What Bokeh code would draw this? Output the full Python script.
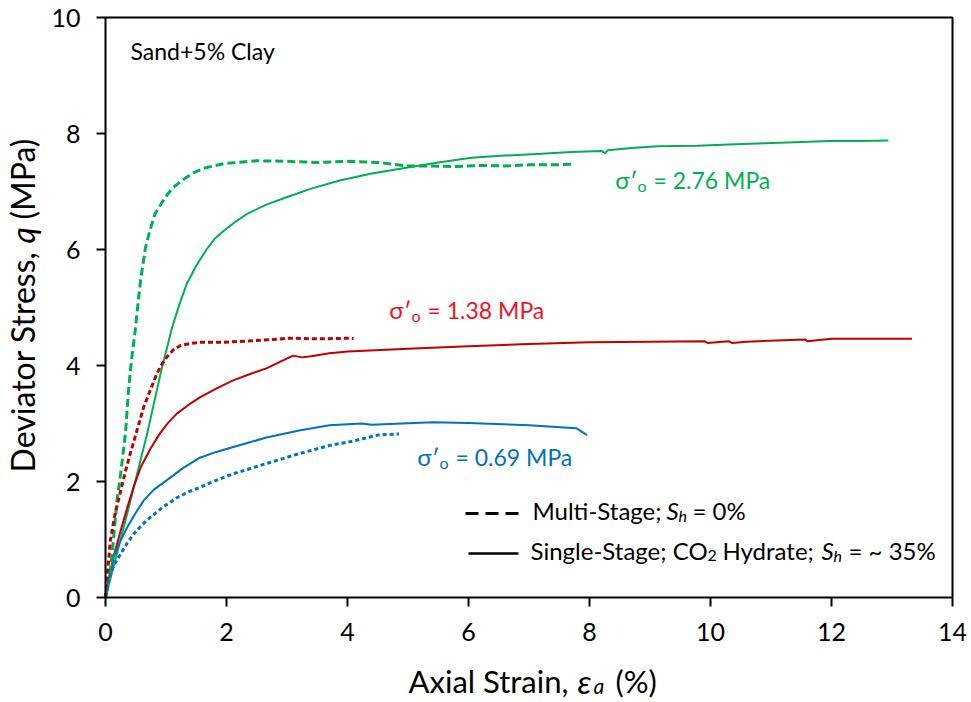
from math import pi
from bokeh.plotting import figure
from bokeh.models import Range1d, Label, FixedTicker
from bokeh.embed import file_html
from bokeh.resources import INLINE

# ---------------- data ----------------
x_ticks = [0, 2, 4, 6, 8, 10, 12, 14]
y_ticks = [0, 2, 4, 6, 8, 10]

# sigma'_o = 2.76 MPa, multi-stage (dashed)
g_ms_x = [0, 0.08, 0.13, 0.19, 0.25, 0.33, 0.38, 0.43, 0.48, 0.52, 0.58, 0.66, 0.74, 0.82, 0.99, 1.1, 1.26,
          1.45, 1.62, 1.95, 2.5, 3.0, 3.5, 4.03, 4.5, 5.0, 5.4, 5.8, 6.2, 6.6, 7.0, 7.4, 7.72]
g_ms_q = [0, 0.46, 0.98, 1.67, 2.13, 2.83, 3.57, 4.1, 4.5, 4.9, 5.47, 6.03, 6.35, 6.62, 6.9, 7.05, 7.19,
          7.32, 7.4, 7.48, 7.53, 7.52, 7.5, 7.52, 7.5, 7.44, 7.44, 7.43, 7.45, 7.44, 7.46, 7.46, 7.47]
# sigma'_o = 2.76 MPa, single-stage hydrate (solid)
g_ss_x = [0, 0.18, 0.36, 0.52, 0.69, 0.79, 0.93, 1.02, 1.1, 1.22, 1.34, 1.5, 1.67, 1.8, 1.95, 2.15, 2.35,
          2.65, 2.99, 3.4, 3.87, 4.4, 4.97, 5.5, 6.05, 6.6, 7.2, 7.7, 8.2, 8.26, 8.3, 8.7, 9.13, 9.79,
          10.3, 10.89, 11.4, 11.97, 12.5, 12.94]
g_ss_q = [0, 0.72, 1.45, 2.12, 2.83, 3.3, 3.95, 4.32, 4.65, 5.05, 5.4, 5.72, 6.0, 6.18, 6.32, 6.48, 6.62,
          6.77, 6.9, 7.05, 7.19, 7.31, 7.41, 7.5, 7.58, 7.62, 7.65, 7.68, 7.7, 7.66, 7.71, 7.75, 7.78, 7.79,
          7.81, 7.83, 7.85, 7.87, 7.87, 7.88]

# sigma'_o = 1.38 MPa
r_ms_x = [0, 0.04, 0.08, 0.15, 0.25, 0.36, 0.47, 0.63, 0.75, 0.85, 0.93, 1.01, 1.12, 1.23, 1.4, 1.56, 1.94,
          2.5, 3.04, 3.5, 4.03, 4.1]
r_ms_q = [0, 0.5, 0.98, 1.4, 1.84, 2.3, 2.7, 3.28, 3.6, 3.86, 4.02, 4.14, 4.27, 4.34, 4.38, 4.4, 4.4,
          4.43, 4.47, 4.46, 4.47, 4.46]
r_ss_x = [0, 0.13, 0.25, 0.36, 0.47, 0.58, 0.74, 0.9, 1.04, 1.18, 1.37, 1.56, 1.83, 2.1, 2.38, 2.66, 2.9,
          3.1, 3.25, 3.4, 3.7, 4.0, 5.0, 6.0, 7.0, 8.0, 9.0, 9.9, 9.95, 10.3, 10.35, 10.6, 11.56, 11.6,
          12.0, 13.33]
r_ss_q = [0, 0.69, 1.15, 1.55, 1.92, 2.24, 2.56, 2.83, 3.02, 3.17, 3.32, 3.45, 3.6, 3.74, 3.85, 3.95, 4.07,
          4.17, 4.14, 4.16, 4.21, 4.24, 4.29, 4.33, 4.37, 4.4, 4.41, 4.42, 4.39, 4.42, 4.39, 4.41, 4.45, 4.42,
          4.46, 4.46]

# sigma'_o = 0.69 MPa
b_ms_x = [0, 0.04, 0.08, 0.16, 0.25, 0.36, 0.47, 0.6, 0.74, 0.95, 1.18, 1.37, 1.56, 1.83, 2.1, 2.38, 2.66,
          3.2, 3.7, 4.06, 4.5, 4.85]
b_ms_q = [0, 0.2, 0.41, 0.6, 0.75, 0.94, 1.1, 1.25, 1.38, 1.56, 1.72, 1.82, 1.9, 2.02, 2.13, 2.22, 2.31,
          2.48, 2.62, 2.69, 2.8, 2.82]
b_ss_x = [0, 0.13, 0.25, 0.36, 0.5, 0.63, 0.8, 1.01, 1.28, 1.56, 1.83, 2.1, 2.4, 2.66, 3.2, 3.7, 4.23,
          4.4, 4.9, 5.41, 6.0, 7.0, 7.78, 7.96]
b_ss_q = [0, 0.69, 0.98, 1.21, 1.46, 1.67, 1.86, 2.02, 2.23, 2.41, 2.51, 2.59, 2.68, 2.76, 2.88, 2.97, 3.0,
          2.98, 3.0, 3.02, 3.01, 2.97, 2.92, 2.8]

# ---------------- styling ----------------
GREEN = "#00B050"
RED = "#C00000"
RED_TXT = "#F0141E"
BLUE = "#0070C0"
FONT = "Lato"
DY = 9  # empirical baseline correction (px)

# pixel geometry of the plotting box inside the 971x702 canvas
L, R, T, B = 105, 952, 17, 597
W, H = 971, 702
XMAX, YMAX = 14.0, 10.0


def px2x(px):
    return (px - L) / (R - L) * XMAX


def px2y(py):
    return (B - py) / (B - T) * YMAX


# the frame covers the whole canvas; axes are pinned at x=0 / y=0
p = figure(width=W, height=H, output_backend="svg", toolbar_location=None,
           x_range=Range1d(px2x(0), px2x(W)), y_range=Range1d(px2y(H), px2y(0)),
           min_border=0, min_border_left=0, min_border_right=0, min_border_top=0, min_border_bottom=0)
p.title.visible = False
p.background_fill_color = "white"
p.border_fill_color = "white"
p.xgrid.visible = False
p.ygrid.visible = False
p.outline_line_color = None

for ax, ticks, bnd in ((p.xaxis, x_ticks, (0, XMAX)), (p.yaxis, y_ticks, (0, YMAX))):
    ax.ticker = FixedTicker(ticks=ticks)
    ax.fixed_location = 0
    ax.bounds = bnd
    ax.axis_line_width = 2
    ax.axis_line_color = "black"
    ax.major_tick_line_width = 2
    ax.major_tick_line_color = "black"
    ax.major_tick_out = 9
    ax.major_tick_in = 0
    ax.minor_tick_out = 0
    ax.minor_tick_in = 0
    ax.major_label_text_font = FONT
    ax.major_label_text_font_size = "25px"
    ax.major_label_text_color = "black"
p.xaxis.major_label_standoff = 16
p.yaxis.major_label_standoff = 16

# top / right border of the plotting box
p.line([0, XMAX, XMAX], [YMAX, YMAX, 0], line_color="black", line_width=2)

# curves
p.line(g_ss_x, g_ss_q, line_color=GREEN, line_width=2)
p.line(r_ss_x, r_ss_q, line_color=RED, line_width=2)
p.line(b_ss_x, b_ss_q, line_color=BLUE, line_width=2)
p.line(g_ms_x, g_ms_q, line_color=GREEN, line_width=3, line_dash="8 4")
p.line(r_ms_x, r_ms_q, line_color=RED, line_width=3, line_dash="5 3")
p.line(b_ms_x, b_ms_q, line_color=BLUE, line_width=3, line_dash="4 3")


def lab(px, py, text, size, color="black", style="normal", align="left"):
    p.add_layout(Label(x=px2x(px), y=px2y(py - DY), text=text, text_font=FONT,
                       text_font_size=f"{size}px", text_color=color,
                       text_font_style=style, text_align=align,
                       text_baseline="alphabetic"))


def vlab(px, py, text, size, style="normal", align="left"):
    p.add_layout(Label(x=px2x(px), y=px2y(py), text=text, text_font=FONT,
                       text_font_size=f"{size}px", text_color="black",
                       text_font_style=style, text_align=align,
                       text_baseline="middle", angle=pi / 2))


# panel label
lab(130, 59, "Sand+5% Clay", 23)


# sigma'_o labels
def sigma(px_end, py, val, color):
    lab(px_end, py, "σ′", 24, color, align="right")
    lab(px_end, py + 6, "o", 16, color)
    lab(px_end + 16, py, "= " + val + " MPa", 23, color)


sigma(637, 188, "2.76", GREEN)
sigma(411, 318, "1.38", RED_TXT)
sigma(439, 465, "0.69", BLUE)

# custom legend
p.line([px2x(465), px2x(522)], [px2y(513)] * 2, line_color="black", line_width=3, line_dash="13 7")
p.line([px2x(468), px2x(518)], [px2y(553)] * 2, line_color="black", line_width=2.5)
lab(532, 519, "Multi-Stage;", 24)
lab(666, 519, "S", 24, style="italic")
lab(678, 524, "h", 16, style="italic")
lab(692, 519, "= 0%", 24)

lab(530, 559, "Single-Stage; CO", 24)
lab(707, 564, "2", 16)
lab(722, 559, "Hydrate;", 24)
lab(821, 559, "S", 24, style="italic")
lab(833, 564, "h", 16, style="italic")
lab(848, 559, "= ~ 35%", 24)

# axis titles
lab(568, 689, "Axial Strain,", 31, align="right")
lab(577, 689, "ε", 33, style="italic")
lab(593, 694, "a", 21, style="italic")
lab(615, 689, "(%)", 31)

vlab(22, 251, "Deviator Stress,", 32, align="right")
vlab(22, 243, "q", 32, style="italic")
vlab(22, 219, "(MPa)", 32)

open("out.html", "w").write(file_html(p, INLINE))
